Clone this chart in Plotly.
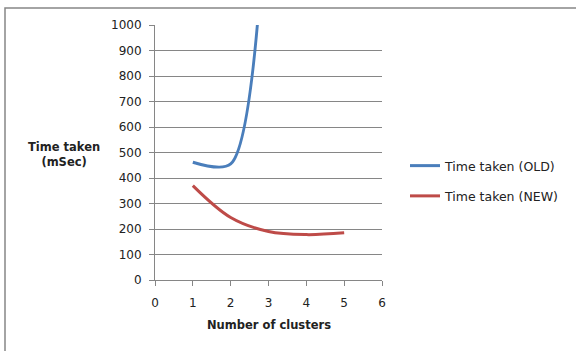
import plotly.graph_objects as go

clusters_old = [1, 2, 3]
time_old = [462, 455, 1700]
clusters_new = [1, 2, 3, 4, 5]
time_new = [370, 245, 190, 178, 185]
x_ticks = [0, 1, 2, 3, 4, 5, 6]
y_ticks = [0, 100, 200, 300, 400, 500, 600, 700, 800, 900, 1000]

W, H = 576, 351
L, R, T, B = 155, 382, 25, 280

fig = go.Figure()
fig.add_trace(go.Scatter(x=clusters_old, y=time_old, mode="lines", name="Time taken (OLD)",
                         legendgroup="old",
                         line=dict(color="#4A7EBB", width=3, shape="spline", smoothing=0.8)))
fig.add_trace(go.Scatter(x=clusters_new, y=time_new, mode="lines", name="Time taken (NEW)",
                         legendgroup="new",
                         line=dict(color="#BE4B48", width=3, shape="spline", smoothing=1)))

font = "DejaVu Sans, Verdana, sans-serif"
axis_common = dict(showline=True, linecolor="#868686", linewidth=1, ticks="outside",
                   ticklen=5, tickcolor="#868686", zeroline=False,
                   tickfont=dict(family=font, size=12, color="#222222"))
fig.update_xaxes(range=[0, 6], tickvals=x_ticks, showgrid=False, ticklabelstandoff=7,
                 **axis_common)
fig.update_yaxes(range=[0, 1000], tickvals=y_ticks, showgrid=True, gridcolor="#868686",
                 gridwidth=1, ticklabelstandoff=5, **axis_common)

fig.update_layout(
    width=W, height=H,
    margin=dict(l=L, r=W - R, t=T, b=H - B, autoexpand=False),
    paper_bgcolor="white", plot_bgcolor="white",
    showlegend=True,
    legend=dict(xref="container", yref="container", x=405 / W, y=1 - 151 / H,
                xanchor="left", yanchor="top", font=dict(family=font, size=12.5, color="#222222"),
                bgcolor="rgba(0,0,0,0)", tracegroupgap=11, itemwidth=30),
    shapes=[dict(type="rect", xref="paper", yref="paper",
                 x0=(5 - L) / (R - L), x1=(600 - L) / (R - L),
                 y0=(B - 400) / (B - T), y1=(B - 8) / (B - T),
                 line=dict(color="#868686", width=1.5), fillcolor="rgba(0,0,0,0)")],
    annotations=[
        dict(text="<b>Time taken<br>(mSec)</b>", xref="paper", yref="paper",
             x=(64 - L) / (R - L), y=(B - 154) / (B - T), showarrow=False,
             xanchor="center", yanchor="middle",
             font=dict(family=font, size=11.5, color="#222222"), align="center"),
        dict(text="<b>Number of clusters</b>", xref="paper", yref="paper",
             x=(269 - L) / (R - L), y=(B - 325) / (B - T), showarrow=False,
             xanchor="center", yanchor="middle",
             font=dict(family=font, size=11.5, color="#222222"), align="center"),
    ],
)

fig.write_html("out.html")
